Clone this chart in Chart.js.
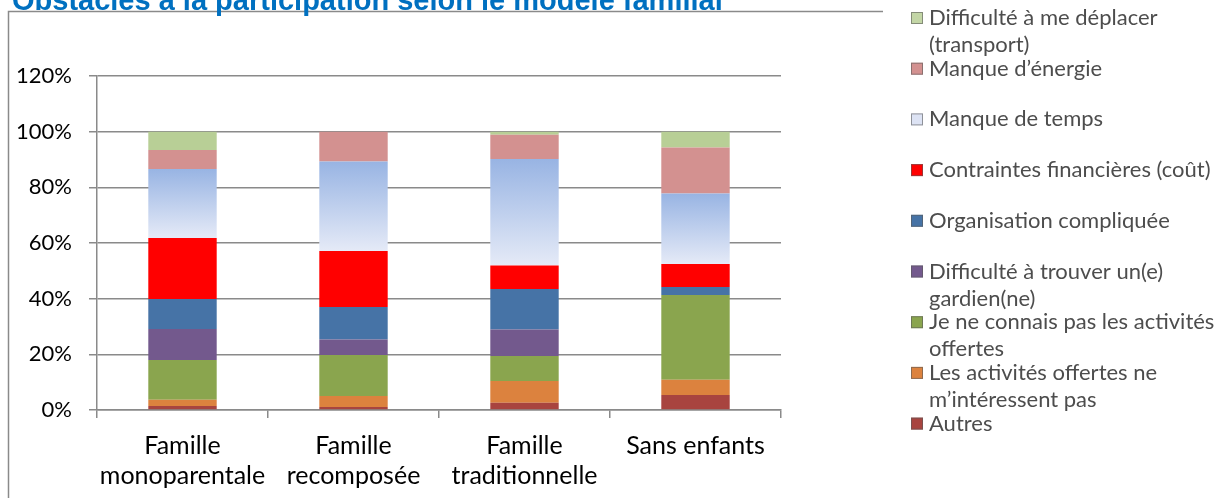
<!DOCTYPE html>
<html>

<head>
	<meta charset="utf-8">
	<title>Obstacles à la participation</title>
	<style>
		body {
			margin: 0;
			background: #fff;
		}

		.chart-wrapper {
			width: 1217px;
			height: 498px;
		}
	</style>
</head>

<body>
	<div class="chart-wrapper">
		<canvas id="chart" width="1217" height="498"></canvas>
	</div>
	<script src="https://cdn.jsdelivr.net/npm/chart.js@4/dist/chart.umd.min.js"></script>
	<script>
		'use strict'

		// categories (x axis), multi-line where the reference wraps
		const categories = [
			['Famille', 'monoparentale'],
			['Famille', 'recomposée'],
			['Famille', 'traditionnelle'],
			'Sans enfants'
		]

		// series values in %, stacked from bottom to top
		const autres = [1.4, 1.1, 2.6, 5.4]
		const pasInteresse = [2.3, 3.9, 7.8, 5.5]
		const pasConnues = [14.3, 14.8, 9.0, 30.4]
		const gardien = [11.1, 5.5, 9.5, 0]
		const organisation = [10.8, 11.7, 14.6, 2.9]
		const financieres = [21.9, 20.1, 8.4, 8.3]
		const temps = [24.8, 32.2, 38.3, 25.3]
		const energie = [6.8, 10.7, 8.7, 16.5]
		const transport = [6.6, 0, 1.1, 5.7]

		const seriesLabels = [
			'Autres',
			'Les activités offertes ne\nm’intéressent pas',
			'Je ne connais pas les activités\noffertes',
			'Difficulté à trouver un(e)\ngardien(ne)',
			'Organisation compliquée',
			'Contraintes financières (coût)',
			'Manque de temps',
			'Manque d’énergie',
			'Difficulté à me déplacer\n(transport)'
		]
		const seriesValues = [autres, pasInteresse, pasConnues, gardien, organisation,
			financieres, temps, energie, transport]

		const yTicks = [0, 20, 40, 60, 80, 100, 120]

		const colors = ['#a8443f', '#dc823e', '#8aa54e', '#73598d', '#4673a6',
			'#ff0000', 'gradient', '#d39190', '#b8cf96']
		const swatchColors = ['#a8443f', '#dc823e', '#8aa54e', '#73598d', '#4673a6',
			'#ff0000', '#dde3f4', '#d39190', '#c3d6a6']

		const gridColor = '#8a8a8a'
		const font = 'Lato'

		// vertical gradient of "Manque de temps", one per bar segment
		function tempsGradient(context) {
			const chart = context.chart
			if (!chart.chartArea || context.type !== 'data') return '#c5d3ef'
			const y = chart.scales.y
			let base = 0
			for (let d = 0; d < context.datasetIndex; d++) {
				base += chart.data.datasets[d].data[context.dataIndex]
			}
			const top = y.getPixelForValue(base + context.raw)
			const bottom = y.getPixelForValue(base)
			const g = chart.ctx.createLinearGradient(0, top, 0, bottom)
			g.addColorStop(0, '#98b4e3')
			g.addColorStop(1, '#e5eaf7')
			return g
		}

		const datasets = seriesValues.map((data, i) => ({
			label: seriesLabels[i],
			data: data,
			backgroundColor: colors[i] === 'gradient' ? tempsGradient : colors[i],
			borderWidth: 0,
			categoryPercentage: 1,
			barPercentage: 0.4
		}))

		// frame + cut title, drawn behind the chart
		const framePlugin = {
			id: 'frame',
			beforeDraw(chart) {
				const ctx = chart.ctx
				ctx.save()
				ctx.strokeStyle = gridColor
				ctx.lineWidth = 1.5
				ctx.beginPath()
				ctx.moveTo(8.5, 498)
				ctx.lineTo(8.5, 11.5)
				ctx.lineTo(883, 11.5)
				ctx.stroke()

				ctx.fillStyle = '#0070c0'
				ctx.font = 'bold 29px "Liberation Sans"'
				ctx.textBaseline = 'alphabetic'
				ctx.fillText('Obstacles à la participation selon le modèle familial', 12, 10)
				ctx.restore()
			}
		}

		// legend on the right, top item = last series
		const legendPlugin = {
			id: 'sideLegend',
			afterDraw(chart) {
				const ctx = chart.ctx
				const sets = chart.data.datasets
				ctx.save()
				ctx.filter = 'blur(0.6px)'
				ctx.font = '22px ' + font
				ctx.textBaseline = 'middle'
				sets.slice().reverse().forEach((ds, i) => {
					const idx = sets.length - 1 - i
					const y = 18 + 50.7 * i
					ctx.fillStyle = swatchColors[idx]
					ctx.fillRect(911, y - 6, 12, 12)
					ctx.strokeStyle = 'rgba(90,90,90,0.6)'
					ctx.lineWidth = 1
					ctx.strokeRect(911.5, y - 5.5, 11, 11)
					ctx.fillStyle = '#4d4d4d'
					ds.label.split('\n').forEach((line, k) => {
						ctx.fillText(line, 929, y + k * 27)
					})
				})
				ctx.restore()
			}
		}

		new Chart(document.getElementById('chart'), {
			type: 'bar',
			data: {
				labels: categories,
				datasets: datasets
			},
			options: {
				responsive: false,
				animation: false,
				events: [],
				layout: {
					padding: { left: 0, top: 76, right: 436, bottom: 0 }
				},
				plugins: {
					legend: { display: false },
					title: { display: false },
					tooltip: { enabled: false }
				},
				scales: {
					x: {
						stacked: true,
						afterFit(scale) { scale.height = 88 },
						grid: {
							offset: true,
							drawOnChartArea: false,
							color: gridColor,
							lineWidth: 1.5,
							tickLength: 8
						},
						border: { display: true, color: gridColor, width: 1.5 },
						ticks: {
							color: '#000',
							padding: 13,
							maxRotation: 0,
							autoSkip: false,
							font: { family: font, size: 25, lineHeight: '30px' }
						}
					},
					y: {
						stacked: true,
						min: 0,
						max: 120,
						afterFit(scale) { scale.width = 97 },
						afterBuildTicks(scale) {
							scale.ticks = yTicks.map(v => ({ value: v }))
						},
						grid: {
							color: gridColor,
							lineWidth: 1.5,
							tickLength: 8
						},
						border: { display: true, color: gridColor, width: 1.5 },
						ticks: {
							color: '#000',
							padding: 17,
							font: { family: font, size: 22 },
							callback: v => v + '%'
						}
					}
				}
			},
			plugins: [framePlugin, legendPlugin]
		})
	</script>
</body>

</html>
